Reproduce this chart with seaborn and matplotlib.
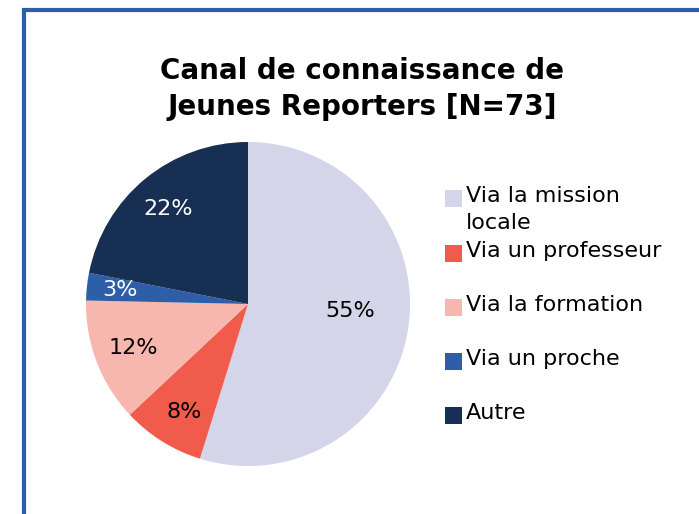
import matplotlib
matplotlib.use("Agg")
import matplotlib.pyplot as plt
import numpy as np
import seaborn as sns
from matplotlib.patches import Rectangle

# data
categories = ["Via la mission\nlocale", "Via un professeur", "Via la formation",
              "Via un proche", "Autre"]
counts = [40, 6, 9, 2, 16]
colors = ["#d5d5e9", "#f05b4b", "#f7b6ae", "#2e5ea8", "#172f52"]
label_colors = ["black", "black", "black", "white", "white"]
title = "Canal de connaissance de\nJeunes Reporters [N=73]"

sns.set_theme(style="white")
plt.rcParams["font.family"] = ["DejaVu Sans"]
plt.rcParams["text.color"] = "black"

W, H = 699, 514
fig = plt.figure(figsize=(W / 100, H / 100), dpi=100)
fig.patch.set_facecolor("white")

# blue frame (only left and top visible)
fig.add_artist(Rectangle((24 / W, -0.2), 2.0, 1.2 - 10 / H, transform=fig.transFigure,
                         fill=False, edgecolor="#2e5ea8", linewidth=3.0))

# pie axes: centre (248, 304), radius 162 px
r = 162
ax = fig.add_axes([(248 - r) / W, (H - 304 - r) / H, 2 * r / W, 2 * r / H])
wedges, texts, autotexts = ax.pie(
    counts, colors=colors, startangle=90, counterclock=False,
    autopct=lambda p: f"{p:.0f}%", pctdistance=0.77,
    wedgeprops=dict(linewidth=0),
    textprops=dict(fontsize=16),
)
ax.set_xlim(-1, 1)
ax.set_ylim(-1, 1)
ax.set_aspect("equal")

# label placement tweaks (distance from centre, angle nudge in degrees)
dist = [0.63, 0.765, 0.755, 0.795, 0.776]
nudge = [5.6, 1.3, -0.5, -0.8, 0.0]
for w, t, c, d, n in zip(wedges, autotexts, label_colors, dist, nudge):
    ang = np.deg2rad((w.theta1 + w.theta2) / 2 + n)
    t.set_position((d * np.cos(ang), d * np.sin(ang) - 0.01))
    t.set_color(c)

fig.text(362 / W, 1 - 89 / H, title, ha="center", va="center", fontsize=20,
         fontweight="bold", linespacing=1.35, color="black")

# legend
ys = [198, 253, 307, 361, 415]
for lab, col, y in zip(categories, colors, ys):
    fig.add_artist(Rectangle((445 / W, 1 - (y + 8.5) / H), 17 / W, 17 / H,
                             transform=fig.transFigure, facecolor=col, edgecolor="none"))
    fig.text(466 / W, 1 - (y - 12) / H, lab, ha="left", va="top", fontsize=16,
             linespacing=1.45, color="black")

fig.savefig("out.png", dpi=100)
